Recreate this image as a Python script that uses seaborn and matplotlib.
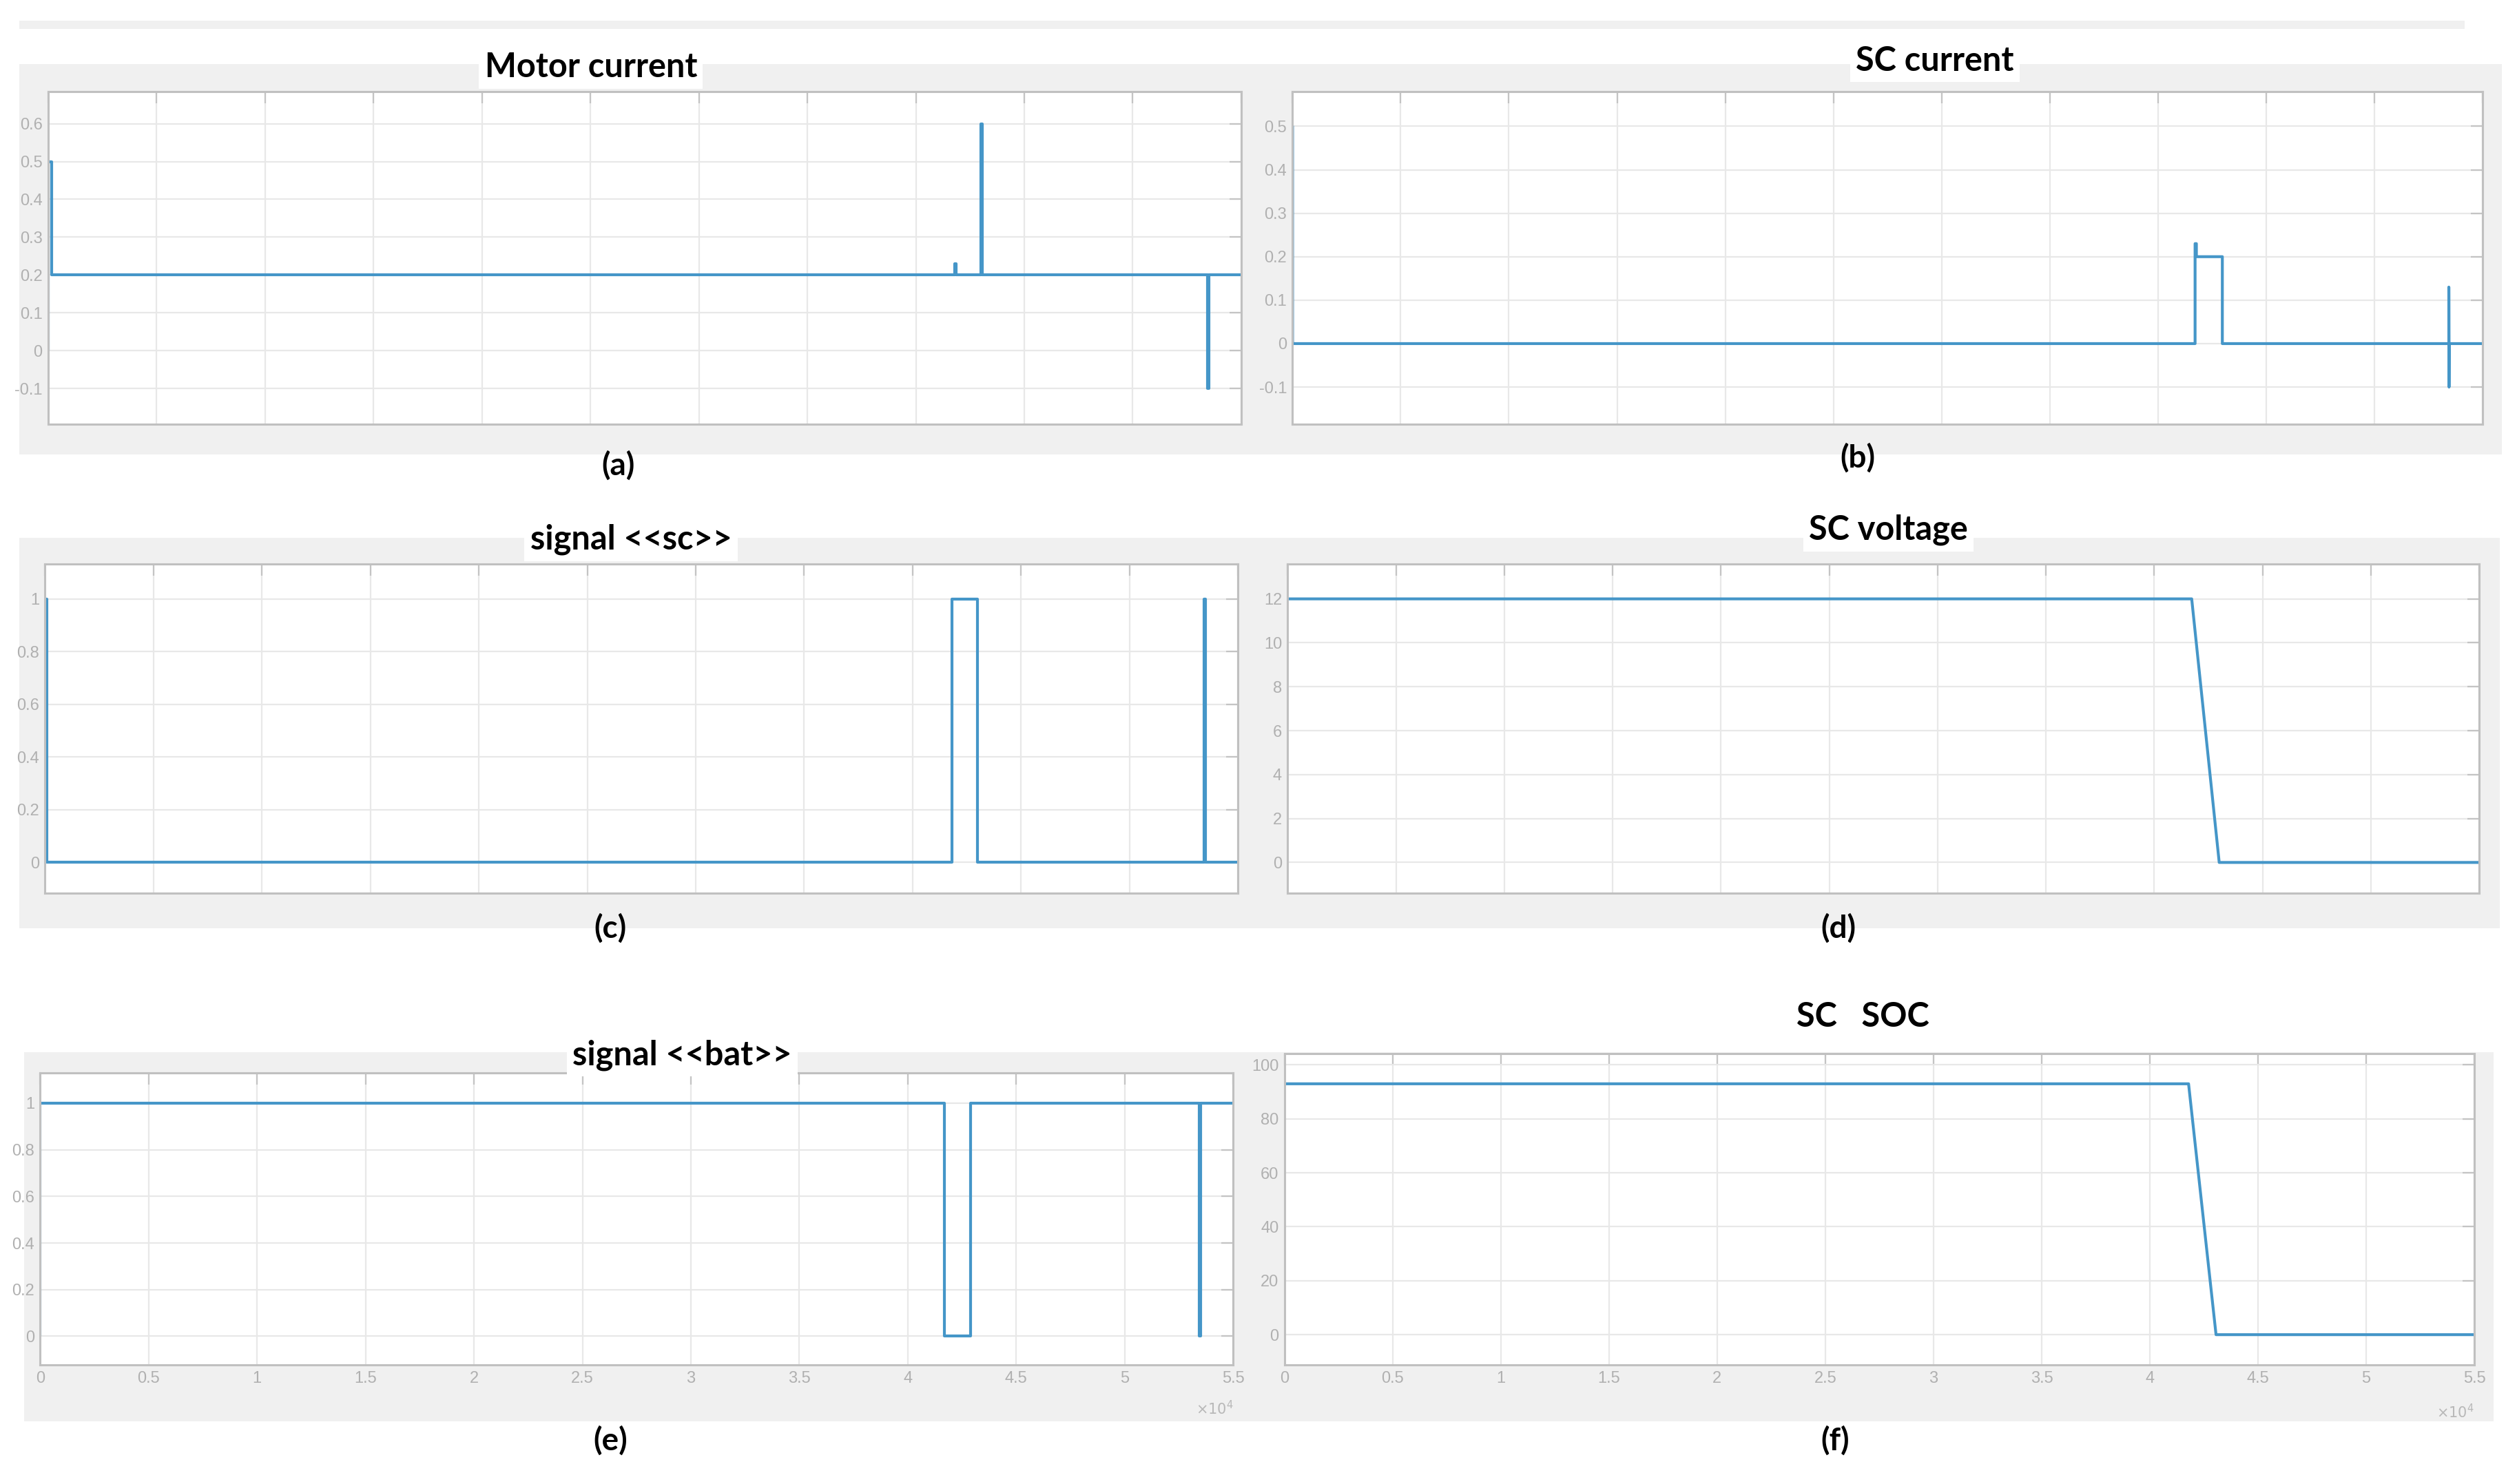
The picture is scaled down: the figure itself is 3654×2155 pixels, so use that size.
# --------------------------------------------------------------
# Supercapacitor / battery management - scope signals (a)-(f)
# --------------------------------------------------------------
import numpy as np
import pandas as pd
import matplotlib
matplotlib.use("Agg")
import matplotlib.pyplot as plt
from matplotlib.patches import Rectangle
import seaborn as sns

# --------------------------------------------------------------
# Data (time in s)
# --------------------------------------------------------------
motor_t = [0, 0, 150, 150, 41800, 41800, 41870, 41870, 43000, 43000, 43060, 43060,
           53450, 53450, 53520, 53520, 55000]
motor_i = [0, 0.5, 0.5, 0.2, 0.2, 0.23, 0.23, 0.2, 0.2, 0.6, 0.6, 0.2,
           0.2, -0.1, -0.1, 0.2, 0.2]

sc_t = [0, 0, 41720, 41720, 41780, 41780, 42980, 42980, 53450, 53450, 53460, 53470, 55000]
sc_i = [0.5, 0, 0, 0.23, 0.23, 0.2, 0.2, 0, 0, 0.13, -0.1, 0, 0]

sig_sc_t = [0, 0, 80, 80, 41820, 41820, 43000, 43000, 53440, 53440, 53500, 53500, 55000]
sig_sc = [0, 1, 1, 0, 0, 1, 1, 0, 0, 1, 1, 0, 0]

sc_v_t = [0, 41730, 43000, 55000]
sc_v = [12, 12, 0, 0]

sig_bat_t = [0, 0, 41700, 41700, 42900, 42900, 53450, 53450, 53510, 53510, 55000]
sig_bat = [0, 1, 1, 0, 0, 1, 1, 0, 0, 1, 1]

soc_t = [0, 41790, 43060, 55000]
soc = [93, 93, 0, 0]

titles = ["Motor current", "SC current", "signal <<sc>>", "SC voltage",
          "signal <<bat>>", "SC   SOC"]
letters = ["(a)", "(b)", "(c)", "(d)", "(e)", "(f)"]

yticks = [
    [-0.1, 0, 0.1, 0.2, 0.3, 0.4, 0.5, 0.6],
    [-0.1, 0, 0.1, 0.2, 0.3, 0.4, 0.5],
    [0, 0.2, 0.4, 0.6, 0.8, 1],
    [0, 2, 4, 6, 8, 10, 12],
    [0, 0.2, 0.4, 0.6, 0.8, 1],
    [0, 20, 40, 60, 80, 100],
]
ylims = [(-0.194, 0.685), (-0.185, 0.58), (-0.116, 1.134),
         (-1.39, 13.6), (-0.124, 1.13), (-11.3, 104.2)]
xticks = [0, 5000, 10000, 15000, 20000, 25000, 30000, 35000, 40000, 45000, 50000, 55000]

series = [(motor_t, motor_i), (sc_t, sc_i), (sig_sc_t, sig_sc),
          (sc_v_t, sc_v), (sig_bat_t, sig_bat), (soc_t, soc)]

# --------------------------------------------------------------
# Layout (positions measured on a 1568 x 924 copy of the page)
# --------------------------------------------------------------
W, H = 1568.0, 924.0
# left, right, top, bottom
boxes = [(30, 773, 57, 264), (805, 1546, 57, 264),
         (28, 771, 351, 556), (802, 1544, 351, 556),
         (25, 768, 668, 850), (800, 1541, 656, 850)]
title_pos = [(368, 42), (1205, 38), (393, 336), (1176, 330), (425, 657), (1160, 633)]
letter_pos = [(385, 290), (1157, 285), (380, 578), (1145, 578), (380, 897), (1143, 897)]

line_col = "#4596c8"
grey_bg = "#f0f0f0"

sns.set_style("white")
plt.rcParams["font.family"] = ["Liberation Sans", "DejaVu Sans"]

fig = plt.figure(figsize=(36.55, 21.55), dpi=100)
fig.patch.set_facecolor("white")


def fx(x):
    return x / W


def fy(y):
    return 1 - y / H


# grey window backgrounds of the scope screenshots
for (x0, x1, y0, y1) in [(12, 1535, 13, 18), (12, 1558, 40, 283),
                         (12, 1557, 335, 578), (15, 1553, 655, 885)]:
    fig.add_artist(Rectangle((fx(x0), fy(y1)), fx(x1) - fx(x0), fy(y0) - fy(y1),
                             transform=fig.transFigure, fc=grey_bg, ec="none", zorder=-1))

# --------------------------------------------------------------
# Draw the six panels
# --------------------------------------------------------------
for k in range(6):
    l, r, t, b = boxes[k]
    ax = fig.add_axes([fx(l), fy(b), fx(r) - fx(l), fy(t) - fy(b)])
    df = pd.DataFrame({"t": series[k][0], "v": series[k][1]})
    sns.lineplot(data=df, x="t", y="v", ax=ax, estimator=None, sort=False,
                 color=line_col, lw=3.0)

    ax.set_facecolor("white")
    ax.set_xlim(0, 55000)
    ax.set_ylim(*ylims[k])
    ax.set_xticks(xticks)
    ax.set_yticks(yticks[k])
    ax.set_yticklabels([("%g" % v) for v in yticks[k]])
    if k >= 4:
        ax.set_xticklabels([("%g" % (v / 1e4)) for v in xticks])
        ax.text(1.0, -0.15, r"$\times10^{4}$", transform=ax.transAxes, ha="right",
                va="center", fontsize=15, color="#b8b8b8")
    else:
        ax.set_xticklabels([])
    ax.set_xlabel("")
    ax.set_ylabel("")
    ax.grid(True, color="#e8e8e8", lw=1.6)
    ax.tick_params(direction="in", length=12, width=1.6, color="#c4c4c4",
                   labelsize=17, labelcolor="#b0b0b0", top=True, right=True, pad=6)
    for s in ax.spines.values():
        s.set_color("#c0c0c0")
        s.set_linewidth(2.2)

    # panel title and letter
    tx, ty = title_pos[k]
    fig.text(fx(tx), fy(ty), titles[k], ha="center", va="center", fontsize=35,
             fontweight="bold", family=["Lato", "DejaVu Sans"], color="black",
             bbox=dict(fc="white", ec="none", pad=6), zorder=5)
    lx, ly = letter_pos[k]
    fig.text(fx(lx), fy(ly), letters[k], ha="center", va="center", fontsize=33,
             fontweight="bold", family=["Lato", "DejaVu Sans"], color="black", zorder=5)

plt.savefig("out.png", dpi=100, facecolor="white")
